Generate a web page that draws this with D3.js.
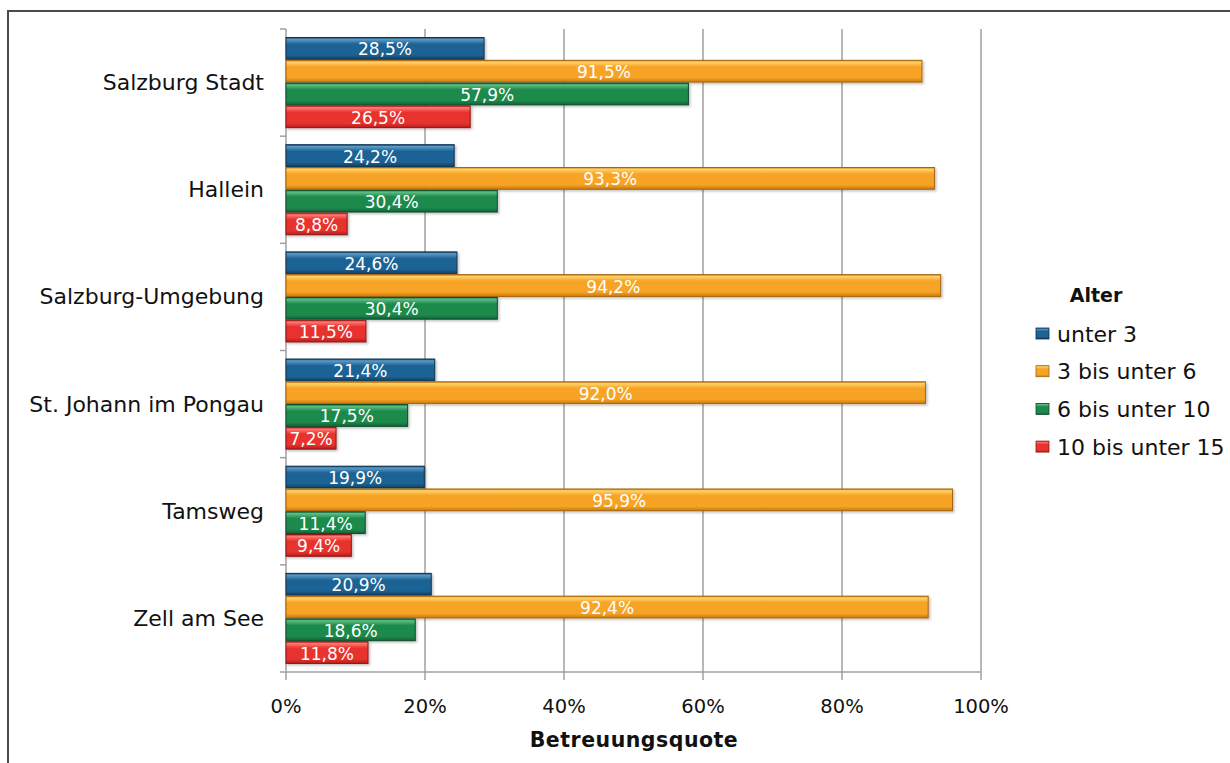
<!DOCTYPE html>
<html>
<head>
<meta charset="utf-8">
<script src="https://cdn.jsdelivr.net/npm/d3@7"></script>
<style>
  html, body { margin: 0; padding: 0; background: #fff; }
  svg { display: block; }
  text { font-family: "DejaVu Sans", Verdana, sans-serif; }
</style>
</head>
<body>
<svg id="chart" width="1230" height="763"></svg>
<script>
// Betreuungsquote nach Bezirk und Altersgruppe
const regions = ["Salzburg Stadt", "Hallein", "Salzburg-Umgebung", "St. Johann im Pongau", "Tamsweg", "Zell am See"];
const seriesNames = ["unter 3", "3 bis unter 6", "6 bis unter 10", "10 bis unter 15"];
const unter3 = [28.5, 24.2, 24.6, 21.4, 19.9, 20.9];
const bis6 = [91.5, 93.3, 94.2, 92.0, 95.9, 92.4];
const bis10 = [57.9, 30.4, 30.4, 17.5, 11.4, 18.6];
const bis15 = [26.5, 8.8, 11.5, 7.2, 9.4, 11.8];
const xTicks = [0, 20, 40, 60, 80, 100];

const seriesValues = [unter3, bis6, bis10, bis15];
const palette = [
  { light: "#5a9cc8", mid: "#1f6395", dark: "#123f63", edge: "#0e3350" },
  { light: "#ffd36a", mid: "#f7a325", dark: "#c97a0e", edge: "#a8650c" },
  { light: "#5cc083", mid: "#1f8a4c", dark: "#12623a", edge: "#0d4c2c" },
  { light: "#ff7a72", mid: "#e8332e", dark: "#b51f1d", edge: "#8e1716" }
];

const svg = d3.select("#chart");
const defs = svg.append("defs");

// bevelled bar fill: bright top edge, saturated body, darker bottom
palette.forEach((c, i) => {
  const g = defs.append("linearGradient")
    .attr("id", "grad" + i).attr("x1", 0).attr("y1", 0).attr("x2", 0).attr("y2", 1);
  g.append("stop").attr("offset", "0%").attr("stop-color", c.dark);
  g.append("stop").attr("offset", "8%").attr("stop-color", c.light);
  g.append("stop").attr("offset", "30%").attr("stop-color", c.mid);
  g.append("stop").attr("offset", "80%").attr("stop-color", c.mid);
  g.append("stop").attr("offset", "100%").attr("stop-color", c.dark);
});
const shadow = defs.append("filter").attr("id", "shadow")
  .attr("x", "-5%").attr("y", "-20%").attr("width", "115%").attr("height", "160%");
shadow.append("feDropShadow").attr("dx", 1.5).attr("dy", 1.5).attr("stdDeviation", 1.2)
  .attr("flood-color", "#000").attr("flood-opacity", 0.25);

// outer frame
svg.append("rect").attr("x", 8).attr("y", 11).attr("width", 1240).attr("height", 770)
  .attr("fill", "none").attr("stroke", "#4a4a4a").attr("stroke-width", 2);

const x = d3.scaleLinear().domain([0, 100]).range([286, 981]);
const y = d3.scaleBand().domain(regions).range([29, 672]).paddingInner(0.15).paddingOuter(0.075);
const ySub = d3.scaleBand().domain(d3.range(seriesNames.length)).range([0, y.bandwidth()]);

// vertical gridlines with ticks below the axis
const grid = svg.append("g");
grid.selectAll("line").data(xTicks).join("line")
  .attr("x1", d => x(d)).attr("x2", d => x(d))
  .attr("y1", 29).attr("y2", 680)
  .attr("stroke", "#a0a0a0").attr("stroke-width", 1.5);

// horizontal axis line
svg.append("line").attr("x1", x(0)).attr("x2", x(100)).attr("y1", 672).attr("y2", 672)
  .attr("stroke", "#a0a0a0").attr("stroke-width", 1.5);

// category boundary ticks on the vertical axis
const bounds = regions.map(r => y(r) - y.step() * 0.075).concat([672]);
svg.append("g").selectAll("line").data(bounds).join("line")
  .attr("x1", 280).attr("x2", x(0)).attr("y1", d => d).attr("y2", d => d)
  .attr("stroke", "#a0a0a0").attr("stroke-width", 1.5);

// x tick labels
svg.append("g").selectAll("text").data(xTicks).join("text")
  .attr("x", d => x(d)).attr("y", 713)
  .attr("text-anchor", "middle")
  .attr("font-size", 19.5).attr("fill", "#111")
  .text(d => d + "%");

// category labels
svg.append("g").selectAll("text").data(regions).join("text")
  .attr("x", 264).attr("y", d => y(d) + y.bandwidth() / 2)
  .attr("text-anchor", "end").attr("dominant-baseline", "central")
  .attr("font-size", 22).attr("fill", "#111")
  .text(d => d);

// bars
const fmt = v => d3.format(".1f")(v).replace(".", ",") + "%";
const barData = [];
regions.forEach((r, ri) => seriesValues.forEach((vals, si) => barData.push({ r, si, v: vals[ri] })));

const bars = svg.append("g");
bars.selectAll("rect").data(barData).join("rect")
  .attr("x", x(0))
  .attr("y", d => y(d.r) + ySub(d.si) + 0.5)
  .attr("width", d => x(d.v) - x(0))
  .attr("height", ySub.bandwidth() - 1)
  .attr("fill", d => `url(#grad${d.si})`)
  .attr("stroke", d => palette[d.si].edge)
  .attr("stroke-width", 1)
  .attr("filter", "url(#shadow)");

bars.selectAll("text").data(barData).join("text")
  .attr("x", d => (x(0) + x(d.v)) / 2)
  .attr("y", d => y(d.r) + ySub(d.si) + ySub.bandwidth() / 2 + 1)
  .attr("text-anchor", "middle").attr("dominant-baseline", "central")
  .attr("font-size", 17).attr("fill", "#fff")
  .text(d => fmt(d.v));

// axis title
svg.append("text").attr("x", 634).attr("y", 747)
  .attr("text-anchor", "middle").attr("font-size", 20.5).attr("font-weight", "bold")
  .attr("fill", "#111").attr("letter-spacing", 0.5)
  .text("Betreuungsquote");

// legend
const legend = svg.append("g");
legend.append("text").attr("x", 1096).attr("y", 302)
  .attr("text-anchor", "middle").attr("font-size", 19).attr("font-weight", "bold").attr("fill", "#111")
  .text("Alter");
const item = legend.selectAll("g.item").data(seriesNames).join("g")
  .attr("class", "item")
  .attr("transform", (d, i) => `translate(1036, ${334 + i * 37.7})`);
item.append("rect").attr("x", 0).attr("y", -6).attr("width", 13).attr("height", 11)
  .attr("fill", (d, i) => `url(#grad${i})`)
  .attr("stroke", (d, i) => palette[i].edge).attr("stroke-width", 0.8);
item.append("text").attr("x", 21).attr("y", 0)
  .attr("dominant-baseline", "central").attr("font-size", 22).attr("fill", "#111")
  .text(d => d);
</script>
</body>
</html>
